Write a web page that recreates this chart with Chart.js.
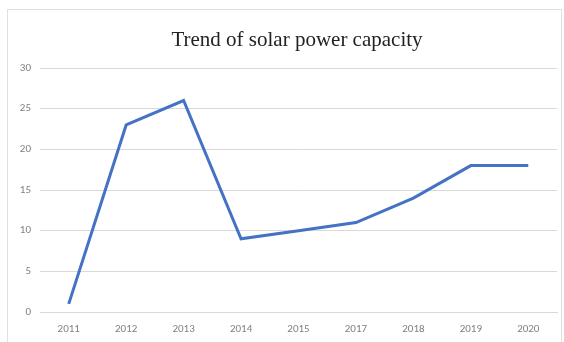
<!DOCTYPE html>
<html>
<head>
<meta charset="utf-8">
<script src="https://cdn.jsdelivr.net/npm/chart.js@4"></script>
<style>
  html, body { margin: 0; padding: 0; background: #fff; }
  #wrap { position: relative; width: 564px; height: 342px; }
  #frame { position: absolute; left: 7px; top: 9px; width: 555px; height: 340px; border: 1px solid #e0e0e0; box-sizing: border-box; }
  canvas { position: absolute; left: 0; top: 0; }
</style>
</head>
<body>
<div id="wrap">
  <div id="frame"></div>
  <canvas id="chart" width="564" height="342"></canvas>
</div>
<script>
const years = ['2011', '2012', '2013', '2014', '2015', '2017', '2018', '2019', '2020'];
const capacity = [1, 23, 26, 9, 10, 11, 14, 18, 18];
const yTicks = [0, 5, 10, 15, 20, 25, 30];
const chartTitle = 'Trend of solar power capacity';

// title sits a bit right of the canvas centre in the original, so draw it by hand
const titlePlugin = {
    id: 'titleText',
    afterDraw(chart) {
        const c = chart.ctx;
        c.save();
        c.fillStyle = '#222';
        c.font = '21px "Liberation Serif", "Times New Roman", serif';
        c.textAlign = 'center';
        c.textBaseline = 'middle';
        c.fillText(chartTitle, 297, 40);
        c.restore();
    }
};

const ctx = document.getElementById('chart').getContext('2d');

new Chart(ctx, {
    type: 'line',
    data: {
        labels: years,
        datasets: [{
            label: 'Capacity',
            data: capacity,
            borderColor: '#4472C4',
            borderWidth: 3,
            pointRadius: 0,
            tension: 0,
            fill: false
        }]
    },
    options: {
        responsive: false,
        animation: false,
        layout: { padding: { left: 0, right: 7, top: 68, bottom: 0 } },
        plugins: {
            legend: { display: false },
            tooltip: { enabled: false },
            title: { display: false }
        },
        scales: {
            x: {
                offset: true,
                grid: { display: false, drawTicks: false },
                border: { display: true, color: '#d9d9d9', width: 1 },
                ticks: {
                    color: '#7f7f7f',
                    font: { family: 'Calibri, Carlito, "Liberation Sans", sans-serif', size: 11 },
                    padding: 11,
                    maxRotation: 0
                },
                afterFit(scale) { scale.height = 30; }
            },
            y: {
                min: 0,
                max: 30,
                afterBuildTicks(scale) { scale.ticks = yTicks.map(v => ({ value: v })); },
                grid: { color: '#d9d9d9', drawTicks: false },
                border: { display: false },
                ticks: {
                    color: '#7f7f7f',
                    font: { family: 'Calibri, Carlito, "Liberation Sans", sans-serif', size: 11 },
                    padding: 9
                },
                afterFit(scale) { scale.width = 40; }
            }
        }
    },
    plugins: [titlePlugin]
});
</script>
</body>
</html>
